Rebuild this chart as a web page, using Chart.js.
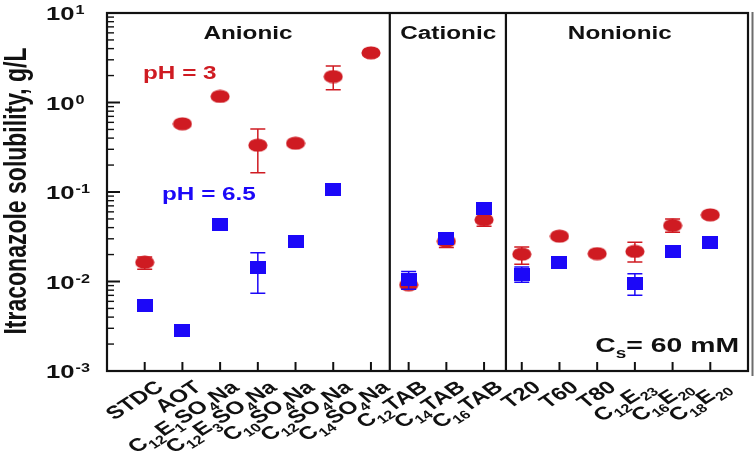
<!DOCTYPE html>
<html>
<head>
<meta charset="utf-8">
<script src="https://cdn.jsdelivr.net/npm/chart.js@4"></script>
<style>
html,body{margin:0;padding:0;background:#fff;}
#wrap{width:756px;height:453px;}
</style>
</head>
<body>
<div id="wrap"><canvas id="c" width="756" height="453"></canvas></div>
<script>
// ---------------- data ----------------
const categories = ['STDC','AOT','C_{12}E_{1}SO_{4}Na','C_{12}E_{3}SO_{4}Na','C_{10}SO_{4}Na','C_{12}SO_{4}Na','C_{14}SO_{4}Na',
  'C_{12}TAB','C_{14}TAB','C_{16}TAB','T20','T60','T80','C_{12}E_{23}','C_{16}E_{20}','C_{18}E_{20}'];
const groups = ['Anionic','Cationic','Nonionic'];
const solubilityPH3  = [0.0164,0.578,1.17,0.333,0.351,1.95,3.59,0.0092,0.0282,0.0490,0.0202,0.0321,0.0205,0.0217,0.0423,0.0556];
const errLowPH3      = [0.0137,null,null,0.164,null,1.39,null,0.0083,0.0240,0.0415,0.0156,null,null,0.0165,0.0355,null];
const errHighPH3     = [0.0188,null,null,0.505,null,2.55,null,0.0103,0.0310,0.0570,0.0243,null,null,0.0275,0.0500,null];
const solubilityPH65 = [0.0054,0.00284,0.0434,0.0142,0.0282,0.106,null,0.0104,0.0300,0.0649,0.0121,0.0164,null,0.0096,0.0216,0.0275];
const errLowPH65     = [null,null,null,0.0074,null,null,null,0.0082,null,null,0.0098,null,null,0.0070,null,null];
const errHighPH65    = [null,null,null,0.0209,null,null,null,0.0129,null,null,0.0145,null,null,0.0122,null,null];
const yTickExponents = [1,0,-1,-2,-3];
const seriesLabels = ['pH = 3','pH = 6.5'];
const concentrationLabel = 'C_{s}= 60 mM';
const yTitle = 'Itraconazole solubility, g/L';

// ---------------- style ----------------
const RED = '#cf1b22';
const BLUE = '#1c08f8';
const INK = '#111';
const SX = 1.35; // horizontal text stretch of the reference
const FONT = '"Liberation Sans", Arial, Helvetica, sans-serif';

function markerCanvas(kind, color) {
  const c = document.createElement('canvas');
  if (kind === 'ellipse') { c.width = 20; c.height = 14; }
  else { c.width = 16; c.height = 13; }
  const g = c.getContext('2d');
  g.fillStyle = color;
  if (kind === 'ellipse') { g.beginPath(); g.ellipse(10, 7, 9.6, 6.6, 0, 0, Math.PI * 2); g.fill(); }
  else { g.fillRect(0, 0, 16, 13); }
  return c;
}

function buildPoints(vals, lo, hi) {
  const pts = [];
  vals.forEach((v, i) => { if (v != null) pts.push({ x: i + 1, y: v, lo: lo[i], hi: hi[i] }); });
  return pts;
}

function parseRich(s) {
  const out = []; const re = /([_^])\{([^}]*)\}|([^_^]+)/g; let m;
  while ((m = re.exec(s))) {
    if (m[3]) out.push({ t: m[3], k: 'n' }); else out.push({ t: m[2], k: m[1] === '_' ? 'sub' : 'sup' });
  }
  return out;
}
function drawRich(ctx, str, x, y, o) {
  const toks = parseRich(str);
  const fMain = 'bold ' + o.size + 'px ' + FONT, fSmall = 'bold ' + o.small + 'px ' + FONT;
  let w = 0;
  toks.forEach(t => { ctx.font = t.k === 'n' ? fMain : fSmall; t.w = ctx.measureText(t.t).width + (t.k !== 'n' ? (o.gap || 0) : 0); w += t.w; });
  ctx.save();
  ctx.translate(x, y); ctx.scale(SX, 1); if (o.angle) ctx.rotate(o.angle);
  let cx = o.align === 'right' ? -w : (o.align === 'center' ? -w / 2 : 0);
  ctx.fillStyle = o.color || INK; ctx.textAlign = 'left'; ctx.textBaseline = 'alphabetic';
  toks.forEach(t => {
    ctx.font = t.k === 'n' ? fMain : fSmall;
    const dy = (o.baseline || 0) + (t.k === 'sub' ? o.subDy : (t.k === 'sup' ? o.supDy : 0));
    ctx.fillText(t.t, cx + (t.k !== 'n' ? (o.gap || 0) / 2 : 0), dy);
    cx += t.w;
  });
  ctx.restore();
}

const errorBarPlugin = {
  id: 'errorBars',
  beforeDatasetDraw(chart, args) {
    const ds = chart.data.datasets[args.index];
    const ctx = chart.ctx, xs = chart.scales.x, ys = chart.scales.y;
    ctx.save();
    ctx.strokeStyle = ds.errColor; ctx.lineWidth = 1.5;
    ds.data.forEach(p => {
      if (p.lo == null || p.hi == null) return;
      const px = xs.getPixelForValue(p.x), y1 = ys.getPixelForValue(p.hi), y2 = ys.getPixelForValue(p.lo);
      ctx.beginPath();
      ctx.moveTo(px, y1); ctx.lineTo(px, y2);
      ctx.moveTo(px - 7.5, y1); ctx.lineTo(px + 7.5, y1);
      ctx.moveTo(px - 7.5, y2); ctx.lineTo(px + 7.5, y2);
      ctx.stroke();
    });
    ctx.restore();
  }
};

const framePlugin = {
  id: 'frame',
  beforeDatasetsDraw(chart) {
    const ctx = chart.ctx, a = chart.chartArea, xs = chart.scales.x, ys = chart.scales.y;
    ctx.save();
    ctx.strokeStyle = INK; ctx.lineWidth = 2.2;
    ctx.strokeRect(a.left, a.top, a.right - a.left, a.bottom - a.top);
    // group separators
    [7.5, 10.58].forEach(v => {
      const px = xs.getPixelForValue(v);
      ctx.beginPath(); ctx.moveTo(px, a.top); ctx.lineTo(px, a.bottom); ctx.stroke();
    });
    // x ticks (inward)
    ctx.lineWidth = 2;
    categories.forEach((c, i) => {
      const px = xs.getPixelForValue(i + 1);
      ctx.beginPath(); ctx.moveTo(px, a.bottom); ctx.lineTo(px, a.bottom - 9); ctx.stroke();
    });
    // y ticks (inward, log minors)
    yTickExponents.forEach(e => {
      const py = ys.getPixelForValue(Math.pow(10, e));
      ctx.lineWidth = 2;
      ctx.beginPath(); ctx.moveTo(a.left, py); ctx.lineTo(a.left + 13, py); ctx.stroke();
      if (e < 1) {
        ctx.lineWidth = 1.4;
        for (let m = 2; m <= 9; m++) {
          const pm = ys.getPixelForValue(m * Math.pow(10, e));
          ctx.beginPath(); ctx.moveTo(a.left, pm); ctx.lineTo(a.left + 7, pm); ctx.stroke();
        }
      }
    });
    // cropped neighbouring frame edge at far right
    ctx.strokeStyle = '#6d6d6d'; ctx.lineWidth = 2;
    ctx.beginPath(); ctx.moveTo(752.5, a.top - 1); ctx.lineTo(752.5, a.bottom + 5); ctx.stroke();
    ctx.restore();
  },
  afterDraw(chart) {
    const ctx = chart.ctx, a = chart.chartArea, xs = chart.scales.x, ys = chart.scales.y;
    // y tick labels
    yTickExponents.forEach(e => {
      const py = ys.getPixelForValue(Math.pow(10, e));
      drawRich(ctx, '10^{' + e + '}', 46, py, { size: 19, small: 12, baseline: 7, supDy: -6, gap: 1.5, align: 'left' });
    });
    // x category labels, rotated
    categories.forEach((c, i) => {
      const px = xs.getPixelForValue(i + 1);
      drawRich(ctx, c, px + 9, a.bottom + 8, { size: 18, small: 12, baseline: 13, subDy: 5, align: 'right', angle: -40 * Math.PI / 180 });
    });
    // y title
    drawRich(ctx, yTitle, 15, 191, { size: 23, small: 14, baseline: 8.5, align: 'center', angle: -Math.PI / 2 });
    // group titles
    [3.74, 9.05, 13.6].forEach((v, i) => {
      drawRich(ctx, groups[i], xs.getPixelForValue(v), 32, { size: 18, small: 12, baseline: 6.5, align: 'center' });
    });
    // series annotations
    drawRich(ctx, seriesLabels[0], 143, 72, { size: 18, small: 12, baseline: 6.5, align: 'left', color: RED });
    drawRich(ctx, seriesLabels[1], 162, 193, { size: 18, small: 12, baseline: 6.5, align: 'left', color: BLUE });
    drawRich(ctx, concentrationLabel, 739, 344, { size: 21, small: 14, baseline: 7.5, subDy: 6, align: 'right' });
  }
};

new Chart(document.getElementById('c'), {
  type: 'scatter',
  data: {
    datasets: [
      { label: seriesLabels[1], data: buildPoints(solubilityPH65, errLowPH65, errHighPH65),
        pointStyle: markerCanvas('rect', BLUE), errColor: BLUE, backgroundColor: BLUE, borderColor: BLUE },
      { label: seriesLabels[0], data: buildPoints(solubilityPH3, errLowPH3, errHighPH3),
        pointStyle: markerCanvas('ellipse', RED), errColor: RED, backgroundColor: RED, borderColor: RED }
    ]
  },
  options: {
    responsive: false,
    animation: false,
    devicePixelRatio: 1,
    layout: { padding: { left: 107, right: 8, top: 13, bottom: 82 } },
    scales: {
      x: { type: 'linear', min: 0, max: 17, display: false },
      y: { type: 'logarithmic', min: 0.001, max: 10, display: false }
    },
    plugins: { legend: { display: false }, tooltip: { enabled: false } }
  },
  plugins: [errorBarPlugin, framePlugin]
});
</script>
</body>
</html>
